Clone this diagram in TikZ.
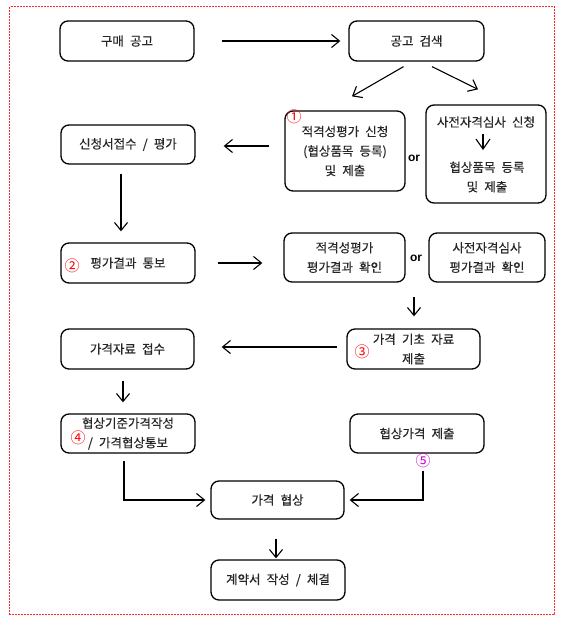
\documentclass[tikz,border=0pt]{standalone}
\usepackage{fontspec}
\setmainfont[WordSpace=2.2, FakeBold=0.4]{Noto Sans CJK KR}
\newfontfamily\numfont{Noto Sans CJK KR}
\newfontfamily\orfont{Liberation Sans}
\usetikzlibrary{arrows.meta,calc}
\definecolor{txt}{HTML}{262626}
\definecolor{bordred}{HTML}{FF2828}
\definecolor{mag}{HTML}{CC00CC}
\begin{document}
\begin{tikzpicture}[x=1pt,y=-1pt,
  box/.style={draw=black, line width=1.3pt, rounded corners=8pt, text=txt,
    font=\fontsize{12.5}{19.5}\selectfont, align=center, inner sep=0pt},
  plain/.style={text=txt, font=\fontsize{12.5}{19.5}\selectfont, align=center, inner sep=0pt},
  arr/.style={line width=1.1pt, -{Straight Barb[length=8pt,width=13pt]}},
  num/.style={font=\numfont\fontsize{15}{15}\selectfont, inner sep=0pt},
  orlab/.style={font=\orfont\bfseries\fontsize{12}{12}\selectfont, text=black, inner sep=0pt},
]
\useasboundingbox (0,0) rectangle (567,623);
\draw[bordred, line width=1pt, dash pattern=on 2pt off 1pt] (9.5,7) rectangle (554.5,614);

% boxes
\node[box, minimum width=134pt, minimum height=40pt] (b1) at (127,41) {구매 공고};
\node[box, minimum width=135pt, minimum height=40pt] (b2) at (416.5,41) {공고 검색};
\node[box, minimum width=120pt, minimum height=80pt] (b3) at (345,151) {적격성평가 신청\\(협상품목 등록)\\및 제출};
\node[box, minimum width=120pt, minimum height=98pt] (b4) at (486,154) {};
\node[plain] (t4a) at (486,122) {사전자격심사 신청};
\node[plain] (t4b) at (487,177) {협상품목 등록\\및 제출};
\node[box, minimum width=134pt, minimum height=39pt] (b5) at (128,144.5) {신청서접수 / 평가};
\node[box, minimum width=134pt, minimum height=40pt] (b6) at (128,263) {평가결과 통보};
\node[box, minimum width=121pt, minimum height=49pt] (b7) at (344.5,257.5) {적격성평가\\평가결과 확인};
\node[box, minimum width=116pt, minimum height=49pt] (b8) at (487,257.5) {사전자격심사\\평가결과 확인};
\node[box, minimum width=133pt, minimum height=40pt] (b9) at (413.5,349) {가격 기초 자료\\제출};
\node[box, minimum width=133pt, minimum height=40pt] (b10) at (127.5,349) {가격자료 접수};
\node[box, minimum width=134pt, minimum height=39pt] (b11) at (128,433.5) {협상기준가격작성\\/ 가격협상통보};
\node[box, minimum width=134pt, minimum height=39pt] (b12) at (417,433.5) {협상가격 제출};
\node[box, minimum width=133pt, minimum height=38pt] (b13) at (277.5,500) {가격 협상};
\node[box, minimum width=134pt, minimum height=40pt] (b14) at (278,580) {계약서 작성 / 체결};

% or labels
\node[orlab] (or1) at (414,158) {or};
\node[orlab] (or2) at (416,258) {or};

% circled numbers
\node[num, text=red] (n1) at (294,117) {①};
\node[num, text=red] (n2) at (72,266) {②};
\node[num, text=red] (n3) at (362,352) {③};
\node[num, text=red] (n4) at (78,438) {④};
\node[num, text=mag] (n5) at (423,461) {⑤};

% connectors
\coordinate (c4a) at (483,134);
\coordinate (c4b) at (483,150);
\coordinate (c7) at (414,297);
\draw[arr] ($(b1.east)+(27,0)$) -- ($(b2.west)+(-8,0)$);
\draw[arr] ($(b2.south)+(-13,5)$) -- ($(b3.north)+(7,-14)$);
\draw[arr] ($(b2.south)+(15.5,5)$) -- ($(b4.north)+(-8,-15)$);
\draw[line width=1.1pt, -{Straight Barb[length=10pt,width=14pt]}] (c4a) -- (c4b);
\draw[arr] ($(b3.west)+(-15,-5)$) -- ($(b5.east)+(28,1.5)$);
\draw[arr] ($(b5.south)+(-7,9)$) -- ($(b6.north)+(-7,-11)$);
\draw[arr] ($(b6.east)+(22,0)$) -- ($(b7.west)+(-21,5.5)$);
\draw[arr] (c7) -- ($(b9.north)+(0.5,-12)$);
\draw[arr] ($(b9.west)+(-9,-2)$) -- ($(b10.east)+(27,-2)$);
\draw[arr] ($(b10.south)+(-4.5,11)$) -- ($(b11.north)+(-5,-11)$);
\draw[arr] ($(b11.south)+(-4,7)$) |- ($(b13.west)+(-5,0)$);
\draw[arr] ($(b12.south)+(6,17)$) |- ($(b13.east)+(5,0)$);
\draw[arr] ($(b13.south)+(-1.5,19)$) -- ($(b14.north)+(-2,-1)$);
\end{tikzpicture}
\end{document}
